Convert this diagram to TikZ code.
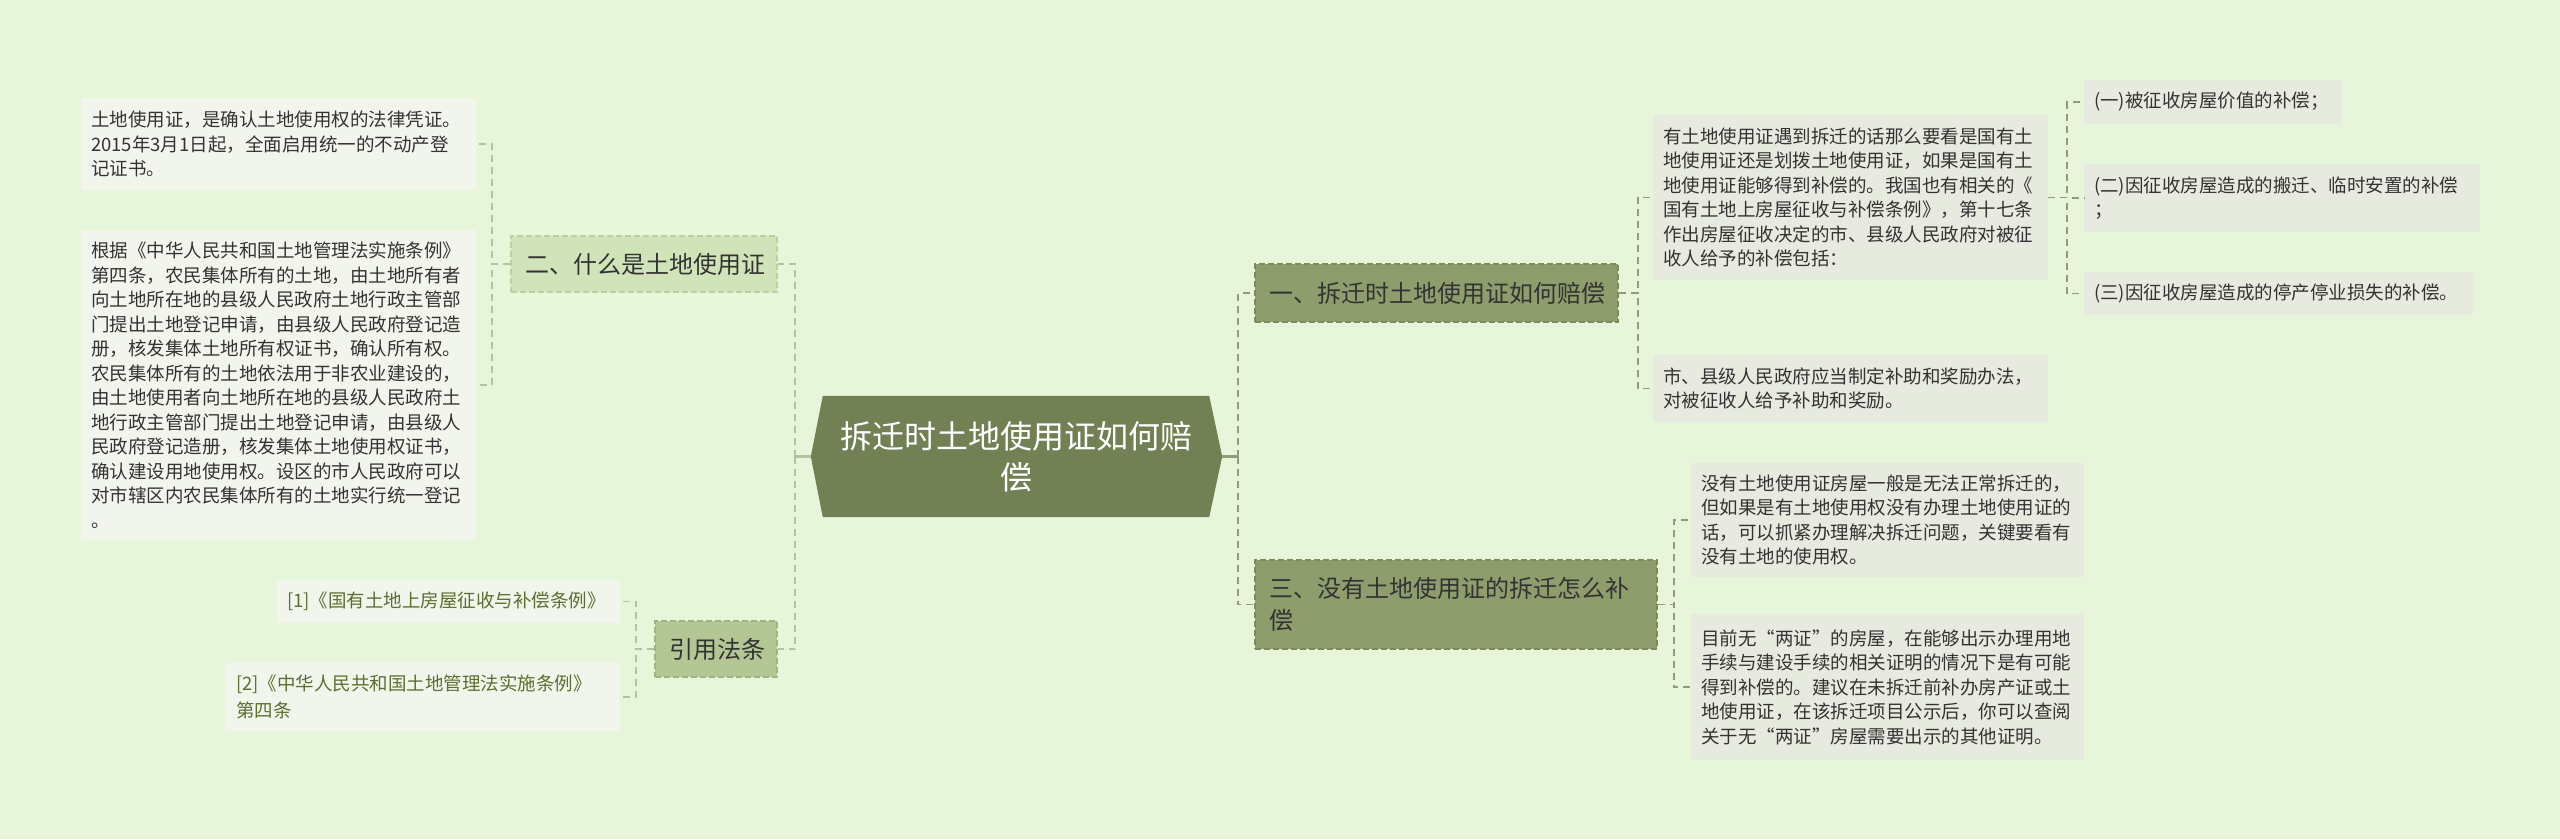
\documentclass[tikz,border=0pt]{standalone}
\usepackage{fontspec}
\setmainfont{Noto Sans CJK SC}
\definecolor{bg}{HTML}{E7F5DA}
\definecolor{rootfill}{HTML}{718153}
\definecolor{bfill}{HTML}{8D9D6C}
\definecolor{bborder}{HTML}{7B8B5B}
\definecolor{lfill}{HTML}{D1E3B8}
\definecolor{lborder}{HTML}{BCD0A0}
\definecolor{qfill}{HTML}{B4C694}
\definecolor{qborder}{HTML}{A0B480}
\definecolor{leafL}{HTML}{F1F5EC}
\definecolor{leafR}{HTML}{E7EADF}
\definecolor{connL}{HTML}{B3C39E}
\definecolor{connR}{HTML}{8E9D74}
\definecolor{reftext}{HTML}{5B6F2E}
\definecolor{txt}{HTML}{333333}
\tikzset{
  conn/.style={line width=1.8pt, dash pattern=on 7pt off 5pt},
  branchbox/.style={draw=bborder, fill=bfill, line width=1.5pt, dash pattern=on 6pt off 3pt,
     inner xsep=14pt, inner ysep=0pt, align=left, text=txt, font=\fontsize{24}{32}\selectfont},
  leafbox/.style={fill=leafR, inner xsep=10pt, inner ysep=0pt, align=left, text=txt,
     font=\fontsize{18.5}{24.5}\selectfont},
}
\begin{document}
\begin{tikzpicture}[x=1pt,y=-1pt]
\useasboundingbox (0,0) rectangle (2560,839);
\fill[bg] (0,0) rectangle (2560,839);

% root
\node[minimum width=411pt, minimum height=121pt, inner sep=0pt] (root) at (1016.5,456.5) {};
\fill[rootfill] (root.west) -- ([xshift=12pt]root.north west) -- ([xshift=-13pt]root.north east)
   -- (root.east) -- ([xshift=-13pt]root.south east) -- ([xshift=12pt]root.south west) -- cycle;
\node[text=white, align=center, font=\fontsize{32}{41}\selectfont] (roottext) at (root.center) {拆迁时土地使用证如何赔\\偿};

% junctions
\coordinate (jL) at (795,456.5);
\coordinate (jR) at (1238,456.5);

% right branches
\node[branchbox, text width=335pt, minimum height=58pt] (b1) at (1436.5,293) {一、拆迁时土地使用证如何赔偿};
\node[branchbox, text width=374pt, minimum height=89pt] (b3) at (1456,604.5) {三、没有土地使用证的拆迁怎么补\\偿};

% left branches
\node[branchbox, draw=lborder, fill=lfill, text width=238pt, minimum height=56pt] (b2) at (644,264) {二、什么是土地使用证};
\node[branchbox, draw=qborder, fill=qfill, text width=94pt, minimum height=56pt] (b4) at (716,649) {引用法条};

% left leaves
\node[leafbox, fill=leafL, text width=375pt, minimum height=92pt] (L1) at (278.5,144) {土地使用证，是确认土地使用权的法律凭证。\\2015年3月1日起，全面启用统一的不动产登\\记证书。};
\node[leafbox, fill=leafL, text width=375pt, minimum height=310pt] (L2) at (278.5,385) {根据《中华人民共和国土地管理法实施条例》\\第四条，农民集体所有的土地，由土地所有者\\向土地所在地的县级人民政府土地行政主管部\\门提出土地登记申请，由县级人民政府登记造\\册，核发集体土地所有权证书，确认所有权。\\农民集体所有的土地依法用于非农业建设的，\\由土地使用者向土地所在地的县级人民政府土\\地行政主管部门提出土地登记申请，由县级人\\民政府登记造册，核发集体土地使用权证书，\\确认建设用地使用权。设区的市人民政府可以\\对市辖区内农民集体所有的土地实行统一登记\\。};

% refs
\node[leafbox, fill=leafL, text=reftext, text width=323pt, minimum height=43pt] (R1) at (448.5,601.5) {[1]《国有土地上房屋征收与补偿条例》};
\node[leafbox, fill=leafL, text=reftext, text width=374pt, minimum height=68pt, font=\fontsize{18.5}{27}\selectfont] (R2) at (423,697) {[2]《中华人民共和国土地管理法实施条例》\\第四条};

% right leaves of b1
\node[leafbox, text width=375pt, minimum height=165pt] (C1) at (1850.5,197.5) {有土地使用证遇到拆迁的话那么要看是国有土\\地使用证还是划拨土地使用证，如果是国有土\\地使用证能够得到补偿的。我国也有相关的《\\国有土地上房屋征收与补偿条例》，第十七条\\作出房屋征收决定的市、县级人民政府对被征\\收人给予的补偿包括：};
\node[leafbox, text width=375pt, minimum height=67pt] (C2) at (1850.5,388.5) {市、县级人民政府应当制定补助和奖励办法，\\对被征收人给予补助和奖励。};

% items
\node[leafbox, text width=238pt, minimum height=44pt] (I1) at (2213,102) {(一)被征收房屋价值的补偿；};
\node[leafbox, text width=376pt, minimum height=68pt] (I2) at (2282,198) {(二)因征收房屋造成的搬迁、临时安置的补偿\\；};
\node[leafbox, text width=369pt, minimum height=43pt] (I3) at (2278.5,293.5) {(三)因征收房屋造成的停产停业损失的补偿。};

% leaves of b3
\node[leafbox, text width=373pt, minimum height=114pt] (D1) at (1887.5,520) {没有土地使用证房屋一般是无法正常拆迁的，\\但如果是有土地使用权没有办理土地使用证的\\话，可以抓紧办理解决拆迁问题，关键要看有\\没有土地的使用权。};
\node[leafbox, text width=373pt, minimum height=146pt] (D2) at (1887.5,687) {目前无“两证”的房屋，在能够出示办理用地\\手续与建设手续的相关证明的情况下是有可能\\得到补偿的。建议在未拆迁前补办房产证或土\\地使用证，在该拆迁项目公示后，你可以查阅\\关于无“两证”房屋需要出示的其他证明。};

% connectors left
\draw[connL, line width=2.5pt] (root.west) -- (jL);
\draw[conn, connL] (jL) |- (b2.east);
\draw[conn, connL] (jL) |- (b4.east);
\draw[conn, connL] (b2.west) -- ++(-18,0) |- (L1.east);
\draw[conn, connL] (b2.west) -- ++(-18,0) |- (L2.east);
\draw[conn, connL] (b4.west) -- ++(-18,0) |- (R1.east);
\draw[conn, connL] (b4.west) -- ++(-18,0) |- (R2.east);

% connectors right
\draw[connR, line width=2.5pt] (root.east) -- (jR);
\draw[conn, connR] (jR) |- (b1.west);
\draw[conn, connR] (jR) |- (b3.west);
\draw[conn, connR] (b1.east) -- ++(19,0) |- (C1.west);
\draw[conn, connR] (b1.east) -- ++(19,0) |- (C2.west);
\draw[conn, connR] (C1.east) -- ++(19,0) |- (I1.west);
\draw[conn, connR] (C1.east) -- ++(19,0) |- (I2.west);
\draw[conn, connR] (C1.east) -- ++(19,0) |- (I3.west);
\draw[conn, connR] (b3.east) -- ++(16,0) |- (D1.west);
\draw[conn, connR] (b3.east) -- ++(16,0) |- (D2.west);
\end{tikzpicture}
\end{document}
